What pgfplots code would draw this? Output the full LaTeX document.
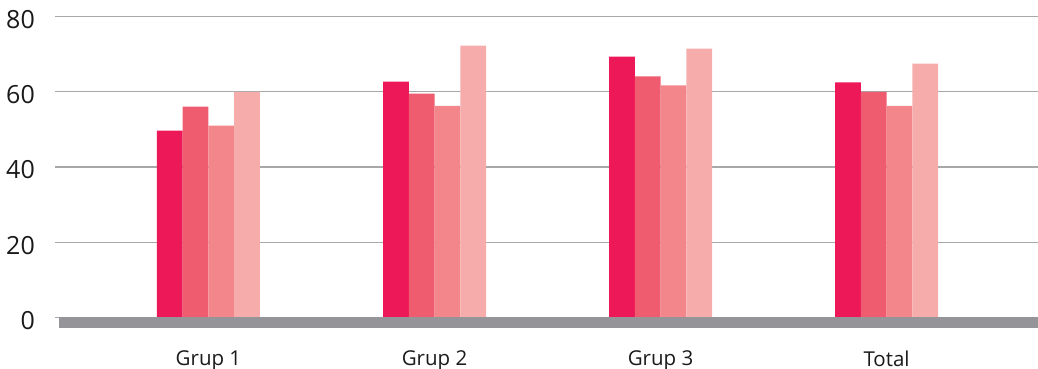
\documentclass[border=0pt]{standalone}
\usepackage{pgfplots}
\pgfplotsset{compat=1.18}
\usepackage{fontspec}
\setmainfont{Open Sans}

\definecolor{barA}{HTML}{ED1858}
\definecolor{barB}{HTML}{F05C6F}
\definecolor{barC}{HTML}{F3868B}
\definecolor{barD}{HTML}{F7ACAC}
\definecolor{basegray}{HTML}{959499}
\definecolor{gridgray}{HTML}{A8A8A8}
\definecolor{txt}{HTML}{1A1A1A}

\begin{document}
\begin{tikzpicture}
\begin{axis}[
  scale only axis,
  width=983pt, height=300.6pt,
  ymin=0, ymax=80,
  ytick={0,20,40,60,80},
  xmin=-0.679, xmax=3.67,
  xtick={0,1,2,3},
  xticklabels={Grup 1, Grup 2, Grup 3, Total},
  axis line style={draw=none},
  tick style={draw=none},
  ymajorgrids,
  grid style={gridgray, line width=1.1pt},
  major tick length=0pt,
  /pgf/number format/assume math mode=true,
  yticklabel style={font=\fontsize{25}{28}\selectfont, text=txt, anchor=east, inner sep=0pt, xshift=-20pt, yshift=-3pt},
  xticklabel style={font=\fontsize{20.5}{24}\selectfont, text=txt, anchor=north, inner sep=0pt, yshift=-33pt},
  ybar=0pt,
  bar width=25.75pt,
  clip=false,
  every axis plot/.append style={draw=none},
]
\addplot[fill=barA] coordinates {(0,49.7) (1,62.7) (2,69.4) (3,62.5)};
\addplot[fill=barB] coordinates {(0,56.1) (1,59.5) (2,64.1) (3,60.0)};
\addplot[fill=barC] coordinates {(0,51.0) (1,56.3) (2,61.7) (3,56.3)};
\addplot[fill=barD] coordinates {(0,60.0) (1,72.3) (2,71.5) (3,67.5)};
% thick base line under the bars
\fill[basegray] ([xshift=4pt]rel axis cs:0,0) rectangle ([yshift=-10.4pt]rel axis cs:1,0);
\end{axis}
\pgfresetboundingbox
\path (-55pt,-51.7pt) rectangle (983pt,317.3pt);
\end{tikzpicture}
\end{document}
